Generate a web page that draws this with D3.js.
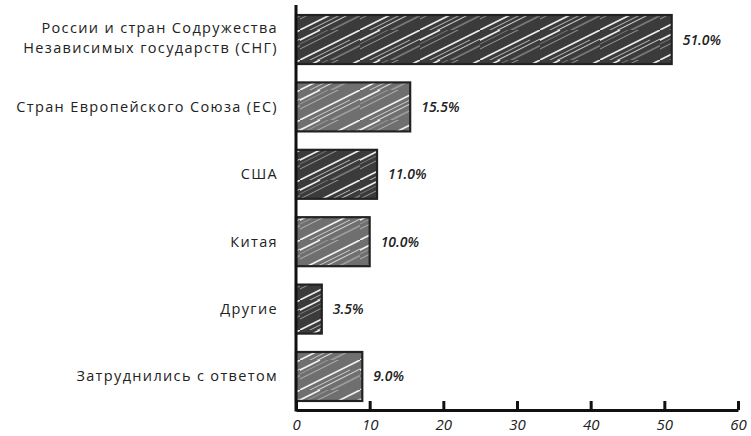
<!DOCTYPE html>
<html><head><meta charset="utf-8">
<script src="https://cdn.jsdelivr.net/npm/d3@7"></script>
<style>
body{margin:0;background:#fff;}
svg{display:block;}
</style></head>
<body>
<svg id="chart" width="751" height="436"></svg>
<script>
const categories = [
  ["России и стран Содружества", "Независимых государств (СНГ)"],
  ["Стран Европейского Союза (ЕС)"],
  ["США"],
  ["Китая"],
  ["Другие"],
  ["Затруднились с ответом"]
];
const values = [51.0, 15.5, 11.0, 10.0, 3.5, 9.0];
const xTicks = [0, 10, 20, 30, 40, 50, 60];
const barColors = ["#3b3b3b", "#6f6f6f"];

const svg = d3.select("#chart");
const x = d3.scaleLinear().domain([0, 60]).range([296, 738]);
const y = d3.scaleBand().domain(d3.range(values.length)).range([6, 410])
  .paddingInner(0.273).paddingOuter(0.134);

const defs = svg.append("defs");
barColors.forEach((c, i) => {
  const p = defs.append("pattern").attr("id", "hatch" + i)
    .attr("patternUnits", "userSpaceOnUse").attr("width", 60).attr("height", 30);
  p.append("rect").attr("width", 60).attr("height", 30).attr("fill", c);
  const lines = [
    [0, 30, 60, 0, 1.6, 0.9], [-30, 34, 50, -6, 0.8, 0.6], [10, 34, 70, 4, 1.1, 0.75],
    [-20, 24, 40, -6, 0.6, 0.5], [20, 36, 80, 6, 0.7, 0.55], [-40, 30, 20, 0, 1.6, 0.9],
    [30, 30, 90, 0, 0.5, 0.5], [-10, 40, 50, 10, 0.9, 0.7]
  ];
  lines.forEach(l => {
    p.append("line").attr("x1", l[0]).attr("y1", l[1]).attr("x2", l[2]).attr("y2", l[3])
      .attr("stroke", "#fff").attr("stroke-width", l[4]).attr("stroke-opacity", l[5]);
  });
});

const g = svg.append("g");
g.selectAll("rect.bar").data(values).enter().append("rect")
  .attr("class", "bar")
  .attr("x", x(0))
  .attr("y", (d, i) => y(i))
  .attr("width", d => x(d) - x(0))
  .attr("height", y.bandwidth())
  .attr("fill", (d, i) => `url(#hatch${i % 2})`)
  .attr("stroke", "#222")
  .attr("stroke-width", 2.2);

g.selectAll("text.val").data(values).enter().append("text")
  .attr("class", "val")
  .attr("x", d => x(d) + 11)
  .attr("y", (d, i) => y(i) + y.bandwidth() / 2 + 5)
  .attr("font-family", "Open Sans, sans-serif")
  .attr("font-style", "italic").attr("font-weight", "600")
  .attr("font-size", 14).attr("fill", "#222")
  .text(d => d.toFixed(1) + "%");

const lab = g.selectAll("text.cat").data(categories).enter().append("text")
  .attr("class", "cat")
  .attr("text-anchor", "end")
  .attr("font-family", "Open Sans, sans-serif")
  .attr("font-size", 14.5).attr("letter-spacing", 1.35).attr("fill", "#222")
  .attr("x", 278)
  .attr("y", (d, i) => y(i) + y.bandwidth() / 2 + 5 - (d.length - 1) * 12);
lab.each(function(d) {
  d.forEach((t, k) => {
    d3.select(this).append("tspan").attr("x", 278).attr("dy", k === 0 ? 0 : 20.5).text(t);
  });
});

// x axis
const xAxis = d3.axisBottom(x).tickValues(xTicks).tickSizeInner(-9).tickSizeOuter(0).tickPadding(9);
const ax = svg.append("g").attr("transform", "translate(0,410)").call(xAxis);
ax.select(".domain").attr("stroke", "#111").attr("stroke-width", 3);
ax.selectAll(".tick line").attr("stroke", "#111").attr("stroke-width", 3);
ax.selectAll(".tick text").attr("font-family", "Open Sans, sans-serif")
  .attr("font-style", "italic").attr("font-size", 15).attr("fill", "#222");

// y axis line
svg.append("line").attr("x1", x(0)).attr("x2", x(0)).attr("y1", 5).attr("y2", 411.5)
  .attr("stroke", "#111").attr("stroke-width", 3);
</script>
</body></html>
